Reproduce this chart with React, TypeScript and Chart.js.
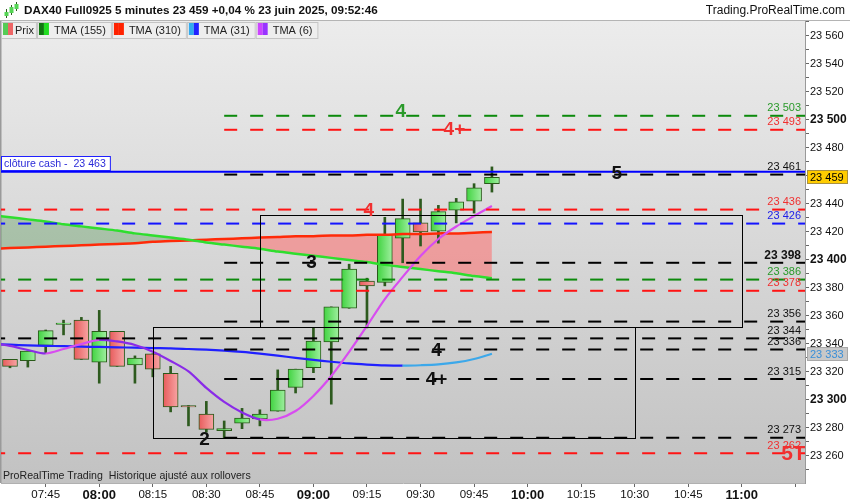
import { useEffect, useRef } from 'react';
import { Chart, registerables } from 'chart.js';

Chart.register(...registerables);

const FONT = '"Liberation Sans", Arial, Helvetica, sans-serif';

// 5-minute bars, minutes after midnight (07:35 .. 09:50)
const candleTimes = [455, 460, 465, 470, 475, 480, 485, 490, 495, 500, 505, 510, 515, 520, 525, 530, 535, 540, 545, 550, 555, 560, 565, 570, 575, 580, 585, 590];
const opens = [23329, 23328, 23339, 23354, 23357, 23327, 23349, 23325, 23333, 23319, 23296, 23290, 23278, 23283.5, 23286.5, 23292, 23309, 23323, 23341.5, 23365.5, 23385, 23384, 23415.5, 23426.5, 23420.5, 23435.5, 23442, 23454.5];
const highs = [23329, 23335, 23350, 23357, 23359, 23364, 23349, 23331.5, 23333, 23324, 23296, 23299, 23285, 23294, 23293, 23321.5, 23322, 23351.5, 23366.5, 23397, 23387, 23430.5, 23443.5, 23443.5, 23439, 23444, 23454.5, 23466.5];
const lows = [23323, 23323.5, 23333.5, 23346.5, 23329, 23312, 23324, 23312, 23316.5, 23291.5, 23281.5, 23277, 23273, 23279.5, 23281.5, 23292, 23305, 23319.5, 23297, 23365.5, 23351.5, 23381.5, 23398, 23410, 23412, 23426.5, 23433.5, 23448.5];
const closes = [23324, 23335, 23349.5, 23355, 23329, 23349, 23324, 23330, 23322, 23295, 23295, 23279, 23279.5, 23287, 23290, 23307, 23322, 23342, 23366.5, 23393.5, 23381.5, 23418, 23429.5, 23420, 23434.5, 23441.5, 23451.5, 23459];

// moving averages, sampled from 07:30 to 09:50
const maTimes = [450, 455, 460, 465, 470, 475, 480, 485, 490, 495, 500, 505, 510, 515, 520, 525, 530, 535, 540, 545, 550, 555, 560, 565, 570, 575, 580, 585, 590];
const tma155 = [23432, 23430.5, 23429, 23427.5, 23425.5, 23424, 23422.5, 23421, 23419, 23417.5, 23416, 23414.5, 23412.5, 23411, 23409.5, 23408, 23406, 23404.5, 23403, 23401.5, 23400, 23398.5, 23396.5, 23395, 23393.5, 23392, 23390.5, 23388.5, 23387];
const tma310 = [23408, 23408.5, 23409, 23409.5, 23410, 23410.5, 23411, 23411.5, 23412, 23413, 23413.5, 23414, 23414.5, 23415, 23415.5, 23416, 23416.5, 23417, 23417, 23417.5, 23417.5, 23418, 23418, 23418.5, 23418.5, 23419, 23419, 23419.5, 23420];
const tma31 = [23340, 23339.5, 23339, 23338.7, 23338.4, 23338.1, 23337.9, 23337.6, 23337.4, 23337.1, 23336.9, 23336.4, 23335.9, 23335.2, 23334.3, 23333.1, 23331.7, 23330.1, 23328.7, 23327.3, 23326.1, 23325.3, 23324.7, 23324.5, 23324.8, 23325.4, 23326.8, 23329.3, 23333];
const tma6 = [23340.7, 23338.6, 23335.7, 23333.2, 23336.4, 23340, 23342.9, 23341.8, 23339.3, 23334.5, 23327.9, 23320.4, 23308.6, 23298.6, 23291.1, 23286.1, 23286.6, 23292.1, 23302.9, 23317.1, 23334.3, 23352.9, 23372.1, 23387.9, 23402.9, 23415, 23423.9, 23431.4, 23438.6];

// horizontal levels
const levelValues = [23503, 23493, 23461, 23436, 23426, 23398, 23386, 23378, 23356, 23344, 23336, 23315, 23273, 23262];
const levelFrom = [515, 515, 515, 450, 450, 515, 450, 450, 515, 450, 515, 515, 515, 450];
const levelKinds = ['g', 'r', 'k', 'r', 'b', 'k', 'g', 'r', 'k', 'k', 'k', 'k', 'k', 'r'];
const cashLevel = 23463;

// wave count labels
const waveTexts = ['4', '4+', '5', '4', '3', '4', '4+', '2', '5T'];
const waveTimes = [564.5, 579.5, 625, 555.5, 539.5, 574.5, 574.5, 509.5, 674.5];
const waveValues = [23506.5, 23494, 23462.5, 23436, 23398.5, 23336, 23315, 23272, 23262];
const waveKinds = ['g', 'r', 'k', 'r', 'k', 'k', 'k', 'k', 'r'];

// rectangles (time range x price range)
const boxStart = [495, 525];
const boxEnd = [630, 660];
const boxLow = [23273, 23352];
const boxHigh = [23352, 23432];

// axis ticks: every 15 minutes (07:45 .. 11:15), every 10 points (labels every 20)
const timeTicks = [465, 480, 495, 510, 525, 540, 555, 570, 585, 600, 615, 630, 645, 660, 675];
const priceTicks = [23250, 23260, 23270, 23280, 23290, 23300, 23310, 23320, 23330, 23340, 23350, 23360, 23370, 23380, 23390, 23400, 23410, 23420, 23430, 23440, 23450, 23460, 23470, 23480, 23490, 23500, 23510, 23520, 23530, 23540, 23550, 23560, 23570];

const LINE_COLORS: Record<string, string> = { g: '#0c8a0c', r: '#ff1414', b: '#1414ff', k: '#000000' };
const TEXT_COLORS: Record<string, string> = { g: '#2a9a2a', r: '#f03030', b: '#2020e8', k: '#111111' };

const X_MIN = 452.48;
const X_MAX = 677.7;
const Y_MIN = 23240.7;
const Y_MAX = 23570.7;

const toClock = (m: number) =>
  `${String(Math.floor(m / 60)).padStart(2, '0')}:${String(Math.round(m % 60)).padStart(2, '0')}`;
const toPrice = (v: number) => {
  const r = Math.round(v);
  return `${Math.floor(r / 1000)} ${String(r % 1000).padStart(3, '0')}`;
};

const pts = (xs: number[], ys: number[]) => xs.map((x, i) => ({ x, y: ys[i] }));

const decor = {
  id: 'prtDecor',
  beforeDraw(chart: any) {
    const { ctx, chartArea: a } = chart;
    ctx.save();
    ctx.fillStyle = '#ffffff';
    ctx.fillRect(0, 0, chart.width, chart.height);
    const g = ctx.createLinearGradient(0, a.top, 0, a.bottom);
    g.addColorStop(0, '#ececec');
    g.addColorStop(1, '#c2c2c2');
    ctx.fillStyle = g;
    ctx.fillRect(a.left, a.top, a.right - a.left, a.bottom - a.top);
    ctx.fillStyle = '#9a9a9a';
    ctx.fillRect(0, a.top, 1.5, a.bottom - a.top);
    ctx.restore();
  },
  afterDatasetsDraw(chart: any) {
    const { ctx, chartArea: a, scales } = chart;
    const x = scales.x;
    const y = scales.y;
    ctx.save();
    ctx.beginPath();
    ctx.rect(a.left, a.top, a.right - a.left, a.bottom - a.top);
    ctx.clip();

    // rectangles
    ctx.strokeStyle = '#000';
    ctx.lineWidth = 1;
    boxStart.forEach((t, i) => {
      const x0 = Math.round(x.getPixelForValue(t)) + 0.5;
      const x1 = Math.round(x.getPixelForValue(boxEnd[i])) + 0.5;
      const y0 = Math.round(y.getPixelForValue(boxHigh[i])) + 0.5;
      const y1 = Math.round(y.getPixelForValue(boxLow[i])) + 0.5;
      ctx.strokeRect(x0, y0, x1 - x0, y1 - y0);
    });

    // cash close tag
    const cy = Math.round(y.getPixelForValue(cashLevel));
    ctx.font = `10.6px ${FONT}`;
    const cashText = `clôture cash -  ${toPrice(cashLevel)}`;
    const cw = ctx.measureText(cashText).width;
    ctx.fillStyle = '#ffffff';
    ctx.fillRect(a.left, cy - 15, cw + 7, 14);
    ctx.strokeStyle = '#2020ff';
    ctx.strokeRect(a.left + 0.5, cy - 15.5, cw + 7, 14);
    ctx.fillStyle = '#2a2ad8';
    ctx.textBaseline = 'middle';
    ctx.textAlign = 'left';
    ctx.fillText(cashText, a.left + 3, cy - 8);

    // level values at the right edge
    ctx.textAlign = 'right';
    levelValues.forEach((v, i) => {
      ctx.font = v === 23398 ? `bold 12px ${FONT}` : `11px ${FONT}`;
      ctx.fillStyle = TEXT_COLORS[levelKinds[i]];
      ctx.fillText(toPrice(v), a.right - 4, y.getPixelForValue(v) - 7.5);
    });

    // wave counts
    ctx.textAlign = 'center';
    waveTexts.forEach((s, i) => {
      ctx.font = s === '5T' ? `bold 21px ${FONT}` : `bold 19px ${FONT}`;
      ctx.fillStyle = TEXT_COLORS[waveKinds[i]];
      ctx.fillText(s, x.getPixelForValue(waveTimes[i]), y.getPixelForValue(waveValues[i]) + 1);
    });

    // footer note
    ctx.textAlign = 'left';
    ctx.font = `10.6px ${FONT}`;
    ctx.fillStyle = '#222';
    ctx.fillText('ProRealTime Trading  Historique ajusté aux rollovers', a.left + 2, a.bottom - 7);
    ctx.restore();
  },
  afterDraw(chart: any) {
    const { ctx, chartArea: a, scales } = chart;
    const y = scales.y;
    ctx.save();

    // header band
    ctx.fillStyle = '#ffffff';
    ctx.fillRect(0, 0, chart.width, 20);
    ctx.fillStyle = '#b4b4b4';
    ctx.fillRect(0, 20, chart.width, 1);
    // small candlestick icon
    ctx.fillStyle = '#2d5a1e';
    ctx.fillRect(6, 9, 1, 9);
    ctx.fillRect(11, 5, 1, 10);
    ctx.fillRect(16, 2, 1, 9);
    ctx.fillStyle = '#55d655';
    ctx.fillRect(4.5, 12, 4, 4);
    ctx.fillRect(9.5, 7, 4, 6);
    ctx.fillRect(14.5, 4, 4, 5);
    ctx.textBaseline = 'middle';
    ctx.textAlign = 'left';
    ctx.fillStyle = '#111';
    ctx.font = `bold 11.7px ${FONT}`;
    ctx.fillText('DAX40 Full0925 5 minutes 23 459 +0,04 % 23 juin 2025, 09:52:46', 24, 10.5);
    ctx.textAlign = 'right';
    ctx.font = `12px ${FONT}`;
    ctx.fillText('Trading.ProRealTime.com', 845, 10.5);

    // legend row
    const items: [string, string[]][] = [
      ['Prix', ['#55cc55', '#ee6666']],
      ['TMA (155)', ['#117711', '#22dd22']],
      ['TMA (310)', ['#ff2200', '#ff2200']],
      ['TMA (31)', ['#33aaee', '#2222ff']],
      ['TMA (6)', ['#cc44ff', '#9933ff']],
    ];
    ctx.font = `11px ${FONT}`;
    ctx.textAlign = 'left';
    let cx = 1;
    items.forEach(([label, sw], k) => {
      const tw = ctx.measureText(label).width;
      const lead = k === 0 ? 14 : 17;
      const w = lead + tw + (k === 0 ? 3 : 6);
      ctx.fillStyle = '#eeeeee';
      ctx.fillRect(cx, 22, w, 17);
      ctx.strokeStyle = '#c4c4c4';
      ctx.strokeRect(cx + 0.5, 22.5, w - 1, 16);
      ctx.fillStyle = sw[0];
      ctx.fillRect(cx + 2, 23, 5, 12);
      ctx.fillStyle = sw[1];
      ctx.fillRect(cx + 7, 23, 5, 12);
      ctx.fillStyle = '#222';
      ctx.fillText(label, cx + lead, 30.5);
      cx += w;
    });

    // price tags on the axis
    const tag = (v: number, bg: string, border: string, color: string) => {
      const py = Math.round(y.getPixelForValue(v));
      ctx.fillStyle = bg;
      ctx.fillRect(a.right + 2, py - 7, 41, 14);
      ctx.strokeStyle = border;
      ctx.strokeRect(a.right + 2.5, py - 6.5, 40, 13);
      ctx.fillStyle = color;
      ctx.font = `11px ${FONT}`;
      ctx.textAlign = 'left';
      ctx.fillText(toPrice(v), a.right + 5, py + 0.5);
    };
    tag(tma31[tma31.length - 1], '#c8c8c8', '#a8a8a8', '#3a8fd8');
    tag(closes[closes.length - 1], '#ffcc00', '#a89040', '#000000');
    ctx.restore();
  },
};

export default function App() {
  const ref = useRef<HTMLCanvasElement>(null);

  useEffect(() => {
    const canvas = ref.current;
    if (!canvas) return;

    const datasets: any[] = [];
    levelValues.forEach((v, i) => {
      datasets.push({
        type: 'line',
        data: [{ x: levelFrom[i], y: v }, { x: 700, y: v }],
        borderColor: LINE_COLORS[levelKinds[i]],
        borderWidth: 2,
        borderDash: [13, 13],
        pointRadius: 0,
        fill: false,
        order: 0,
      });
    });
    datasets.push({
      type: 'line',
      data: [{ x: 440, y: cashLevel }, { x: 700, y: cashLevel }],
      borderColor: '#0000ff',
      borderWidth: 2,
      pointRadius: 0,
      fill: false,
      order: 0,
    });
    datasets.push({
      type: 'line',
      data: pts(maTimes, tma6),
      borderWidth: 2.2,
      pointRadius: 0,
      tension: 0.3,
      fill: false,
      order: 1,
      borderColor: '#9933ff',
      segment: {
        borderColor: (c: any) => (c.p1.parsed.y >= c.p0.parsed.y ? '#d84cf0' : '#8a2be8'),
      },
    });
    datasets.push({
      type: 'line',
      data: pts(maTimes, tma31),
      borderWidth: 2.2,
      pointRadius: 0,
      tension: 0.3,
      fill: false,
      order: 1,
      borderColor: '#2222ff',
      segment: {
        borderColor: (c: any) => (c.p1.parsed.y >= c.p0.parsed.y ? '#3ca8ea' : '#2020ff'),
      },
    });
    const slowIndex = datasets.length + 1;
    datasets.push({
      type: 'line',
      data: pts(maTimes, tma155),
      borderColor: '#2ede2e',
      borderWidth: 2.5,
      pointRadius: 0,
      tension: 0.3,
      order: 2,
      fill: { target: slowIndex, above: 'rgba(80,150,80,0.35)', below: 'rgba(255,110,110,0.55)' },
    });
    datasets.push({
      type: 'line',
      data: pts(maTimes, tma310),
      borderColor: '#ff2a08',
      borderWidth: 2.5,
      pointRadius: 0,
      tension: 0.3,
      fill: false,
      order: 2,
    });
    datasets.push({
      type: 'bar',
      data: candleTimes.map((t, i) => ({ x: t, y: [opens[i], closes[i]] })),
      barThickness: 15,
      grouped: false,
      borderWidth: 1,
      borderSkipped: false,
      borderColor: '#2a5a1a',
      backgroundColor: (c: any) => {
        const i = c.dataIndex;
        if (c.type !== 'data' || i === undefined) return '#66dd66';
        const up = closes[i] >= opens[i];
        const px = c.chart.scales.x ? c.chart.scales.x.getPixelForValue(candleTimes[i]) : NaN;
        if (!Number.isFinite(px)) return up ? '#66dd66' : '#ee7777';
        const g = c.chart.ctx.createLinearGradient(px - 7, 0, px + 7, 0);
        if (up) {
          g.addColorStop(0, '#44d444');
          g.addColorStop(1, '#9cee9c');
        } else {
          g.addColorStop(0, '#e85e5e');
          g.addColorStop(1, '#f7a2a2');
        }
        return g;
      },
      order: 3,
    });
    datasets.push({
      type: 'bar',
      data: candleTimes.map((t, i) => ({ x: t, y: [lows[i], highs[i]] })),
      barThickness: 2,
      grouped: false,
      borderWidth: 0,
      backgroundColor: '#2d5a1e',
      order: 4,
    });

    const chart = new Chart(canvas, {
      type: 'line',
      data: { datasets },
      plugins: [decor],
      options: {
        responsive: false,
        animation: false,
        events: [],
        layout: { padding: { top: 21, left: 1, right: 0, bottom: 0 } },
        plugins: {
          legend: { display: false },
          tooltip: { enabled: false },
          filler: { drawTime: 'beforeDatasetsDraw' },
        },
        scales: {
          x: {
            type: 'linear',
            position: 'bottom',
            min: X_MIN,
            max: X_MAX,
            offset: false,
            grid: { drawOnChartArea: false, tickLength: 4, color: '#666', offset: false },
            border: { display: true, color: '#b0b0b0' },
            afterBuildTicks: (s: any) => {
              s.ticks = timeTicks.map((value) => ({ value }));
            },
            ticks: {
              autoSkip: false,
              maxRotation: 0,
              padding: 1,
              color: '#111',
              callback: (v: any) => (Number(v) >= 675 ? '' : toClock(Number(v))),
              font: (c: any) =>
                c.tick && c.tick.value % 60 === 0
                  ? { family: FONT, size: 13, weight: 'bold' }
                  : { family: FONT, size: 11.5 },
            },
            afterFit: (s: any) => {
              s.height = 17;
            },
          },
          y: {
            type: 'linear',
            position: 'right',
            min: Y_MIN,
            max: Y_MAX,
            grid: { drawOnChartArea: false, tickLength: 4, color: '#666' },
            border: { display: true, color: '#999' },
            afterBuildTicks: (s: any) => {
              s.ticks = priceTicks.map((value) => ({ value }));
            },
            ticks: {
              autoSkip: false,
              padding: 1,
              color: '#111',
              callback: (v: any) => (Math.round(Number(v)) % 20 === 0 ? toPrice(Number(v)) : ''),
              font: (c: any) =>
                c.tick && Math.round(c.tick.value) % 100 === 0
                  ? { family: FONT, size: 12, weight: 'bold' }
                  : { family: FONT, size: 11 },
            },
            afterFit: (s: any) => {
              s.width = 45;
            },
          },
        },
      } as any,
    });

    return () => chart.destroy();
  }, []);

  return (
    <div style={{ position: 'fixed', left: 0, top: 0, width: 850, height: 500 }}>
      <canvas ref={ref} width={850} height={500} style={{ display: 'block', width: 850, height: 500 }} />
    </div>
  );
}
